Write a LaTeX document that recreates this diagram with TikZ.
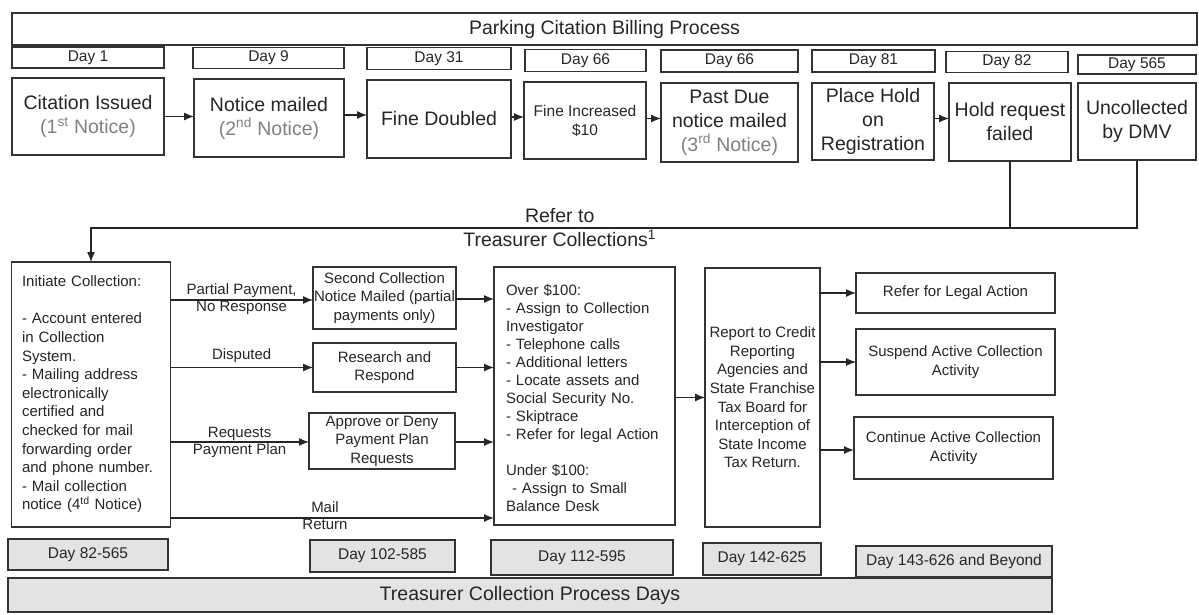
\documentclass[tikz,border=0pt]{standalone}
\usepackage{fontspec}
\setmainfont{Liberation Sans}
\usetikzlibrary{arrows.meta}
\begin{document}
\begin{tikzpicture}[x=1pt,y=-1pt,
  every node/.style={inner sep=0pt, outer sep=0pt, text=black!85},
  sz/.style 2 args={minimum width=#1pt, minimum height=#2pt},
  box/.style={draw=black!80, line width=1.1pt, fill=white, align=center},
  daybox/.style={box, font=\fontsize{15.5}{18}\selectfont},
  big/.style={box, font=\fontsize{19.5}{24}\selectfont},
  small/.style={box, font=\fontsize{15}{18.6}\selectfont},
  gbox/.style={draw=black!80, line width=1.2pt, fill=black!11, align=center, font=\fontsize{15.5}{18}\selectfont},
  arr/.style={draw=black!85, line width=1.2pt, -{Latex[length=10pt,width=8pt]}},
  conn/.style={draw=black!85, line width=1.2pt},
  lbl/.style={font=\fontsize{15}{18}\selectfont, inner sep=1.5pt, align=center},
  biglbl/.style={font=\fontsize{19.5}{24}\selectfont, inner sep=1.5pt}
]
\useasboundingbox (0,0) rectangle (1199,615);

% title and day labels
\node[box, font=\fontsize{19.5}{24}\selectfont, sz={1185}{32}] (title) at (604.5,29) {Parking Citation Billing Process};
\node[daybox, sz={152}{21}] (d1) at (88,57.5) {Day 1};
\node[daybox, sz={151}{21}] (d9) at (268.5,58) {Day 9};
\node[daybox, sz={144}{22}] (d31) at (439,58.5) {Day 31};
\node[daybox, sz={121}{22}] (d66a) at (585.5,60.5) {Day 66};
\node[daybox, sz={137}{22}] (d66b) at (729.5,61) {Day 66};
\node[daybox, sz={123}{22}] (d81) at (873.5,61) {Day 81};
\node[daybox, sz={122}{21}] (d82) at (1007,62) {Day 82};
\node[daybox, sz={118}{19}] (d565) at (1137,64.5) {Day 565};

% upper process boxes
\node[big, sz={152}{77}] (b1) at (88,116.5) {Citation Issued\\{\color{black!50}(1\textsuperscript{st} Notice)}};
\node[big, sz={150}{78}] (b2) at (269,118) {Notice mailed\\{\color{black!50}(2\textsuperscript{nd} Notice)}};
\node[big, sz={144}{78}] (b3) at (439,119) {Fine Doubled};
\node[box, font=\fontsize{15.5}{19}\selectfont, sz={122}{77}] (b4) at (585,120.5) {Fine Increased\\\$10};
\node[big, sz={137}{79}] (b5) at (729.5,122.5) {Past Due\\notice mailed\\{\color{black!50}(3\textsuperscript{rd} Notice)}};
\node[big, sz={122}{77}] (b6) at (873,121.5) {Place Hold\\on\\Registration};
\node[big, sz={122}{78}] (b7) at (1010,122) {Hold request\\failed};
\node[big, sz={118}{77}] (b8) at (1137,121.5) {Uncollected\\by DMV};

\draw[arr] (b1.east) -- (b1.east -| b2.west);
\draw[arr] ([yshift=3pt]b2.east) -- ([yshift=3pt]b2.east -| b3.west);
\draw[arr] ([yshift=2pt]b3.east) -- ([yshift=2pt]b3.east -| b4.west);
\draw[arr] ([yshift=2pt]b4.east) -- ([yshift=2pt]b4.east -| b5.west);
\draw[arr] ([yshift=3pt]b6.east) -- ([yshift=3pt]b6.east -| b7.west);

% lower boxes
\node[small, sz={158.5}{265}, text width=138pt, align=left] (init) at (91,394.5) {Initiate Collection:\\\mbox{}\\- Account entered\\in Collection\\System.\\- Mailing address\\electronically\\certified and\\checked for mail\\forwarding order\\and phone number.\\- Mail collection\\notice (4\textsuperscript{td} Notice)};
\node[small, sz={143}{62}] (sc) at (384.5,298) {Second Collection\\Notice Mailed (partial\\payments only)};
\node[small, sz={143}{49}] (rr) at (384.5,367.5) {Research and\\Respond};
\node[small, sz={146}{56}] (ad) at (382,441) {Approve or Deny\\Payment Plan\\Requests};
\node[small, sz={181}{258}, text width=157pt, align=left, font=\fontsize{15}{18}\selectfont] (over) at (584.5,396) {\mbox{}\\[-2pt]Over \$100:\\- Assign to Collection\\Investigator\\- Telephone calls\\- Additional letters\\- Locate assets and\\Social Security No.\\- Skiptrace\\- Refer for legal Action\\\mbox{}\\Under \$100:\\\hspace*{6pt}- Assign to Small\\Balance Desk};
\node[small, sz={115}{259}] (rep) at (762.5,397.5) {Report to Credit\\Reporting\\Agencies and\\State Franchise\\Tax Board for\\Interception of\\State Income\\Tax Return.};
\node[small, sz={199}{40}] (legal) at (955.5,293) {Refer for Legal Action};
\node[small, sz={199}{66}] (susp) at (955.5,362) {Suspend Active Collection\\Activity};
\node[small, sz={199}{62}] (cont) at (953.5,448) {Continue Active Collection\\Activity};

% refer to treasurer connector
\coordinate (rline) at (0,228);
\draw[conn] (b8.south) -- (b8.south |- rline) -- (b7.south |- rline);
\draw[arr] (b7.south) -- (b7.south |- rline)
  -- node[pos=0.49, above=4pt, biglbl]{Refer to}
     node[pos=0.49, below=0.5pt, biglbl]{Treasurer Collections\textsuperscript{1}}
  (rline -| init.north) -- (init.north);

% branches
\draw[arr] ([yshift=-2pt]sc.west -| init.east) -- node[above=1pt, lbl]{Partial Payment,} node[below, lbl]{No Response} ([yshift=-2pt]sc.west);
\draw[arr] ([yshift=-1pt]sc.east) -- ([yshift=-1pt]sc.east -| over.west);
\draw[arr] (rr.west -| init.east) -- node[above=3pt, lbl]{Disputed} (rr.west);
\draw[arr] (rr.east) -- (rr.east -| over.west);
\draw[arr] ([yshift=-1pt]ad.west -| init.east) -- node[above, lbl]{Requests} node[below, lbl]{Payment Plan} ([yshift=-1pt]ad.west);
\draw[arr] ([yshift=-1pt]ad.east) -- ([yshift=-1pt]ad.east -| over.west);
\coordinate (mailY) at (0,518);
\draw[arr] (init.east |- mailY) -- node[pos=0.478, above=4pt, lbl]{Mail} node[pos=0.478, below=0pt, lbl]{Return} (over.west |- mailY);
\draw[arr] (over.east |- rep.west) -- (rep.west);
\draw[arr] (rep.east |- legal.west) -- (legal.west);
\draw[arr] (rep.east |- susp.west) -- (susp.west);
\draw[arr] ([yshift=-2pt]rep.east |- cont.west) -- ([yshift=-2pt]cont.west);

% bottom day ranges
\node[gbox, sz={160}{31}] (db1) at (88,554.5) {Day 82-565};
\node[gbox, sz={145}{32}] (db2) at (382.5,556) {Day 102-585};
\node[gbox, sz={182}{35}] (db3) at (582,557.5) {Day 112-595};
\node[gbox, sz={118}{32}] (db4) at (762,559) {Day 142-625};
\node[gbox, sz={196}{31}] (db5) at (954,561.5) {Day 143-626 and Beyond};
\node[gbox, sz={1044}{34}, font=\fontsize{19.5}{24}\selectfont] (bar) at (530,595) {Treasurer Collection Process Days};
\end{tikzpicture}
\end{document}
